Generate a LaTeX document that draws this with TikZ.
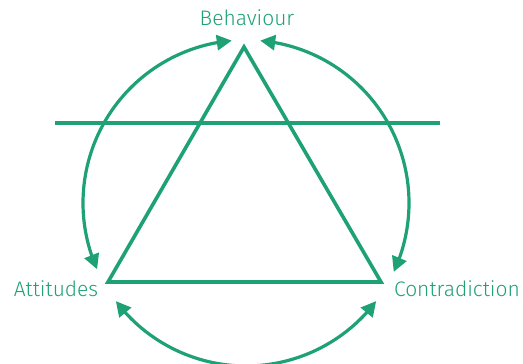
\documentclass[tikz,border=0pt]{standalone}
\usepackage{fontspec}
\setmainfont{Fira Sans}[UprightFont={* Light}]
\usepackage{xcolor}
\usetikzlibrary{arrows.meta, bending}

\definecolor{leaf}{RGB}{30,161,116}

\begin{document}
\begin{tikzpicture}[x=1pt, y=1pt,
    every node/.style={text=leaf, anchor=base,
        font=\fontsize{21}{25}\selectfont},
    edge/.style={draw=leaf, line width=3.6pt},
    loop/.style={draw=leaf, line width=3.2pt,
        {Triangle[length=15pt, width=15pt]}-{Triangle[length=15pt, width=15pt]}}]
    \useasboundingbox (0,0) rectangle (523,364);

    % corners of the triangle, the cut line and the centre of the arrows
    \coordinate (apex) at (244,317);
    \coordinate (left) at (108,82);
    \coordinate (right) at (381,82);
    \coordinate (west) at (55,241);
    \coordinate (east) at (440,241);
    \coordinate (centre) at (246,161);

    \node (behaviour) at (247,338) {Behaviour};
    \node (attitudes) at (56,67) {Attitudes};
    \node (contradiction) at (457,67) {Contradiction};

    \draw[edge] (apex) -- (left) -- (right) -- cycle;
    \draw[edge] (west) -- (east);

    % arrows running round the triangle
    \draw[loop] ([shift={(95:163)}]centre)
        arc[start angle=95, end angle=204, radius=163];
    \draw[loop] ([shift={(85:163)}]centre)
        arc[start angle=85, end angle=-25, radius=163];
    \draw[loop] ([shift={(217:163)}]centre)
        arc[start angle=217, end angle=323, radius=163];
\end{tikzpicture}
\end{document}
